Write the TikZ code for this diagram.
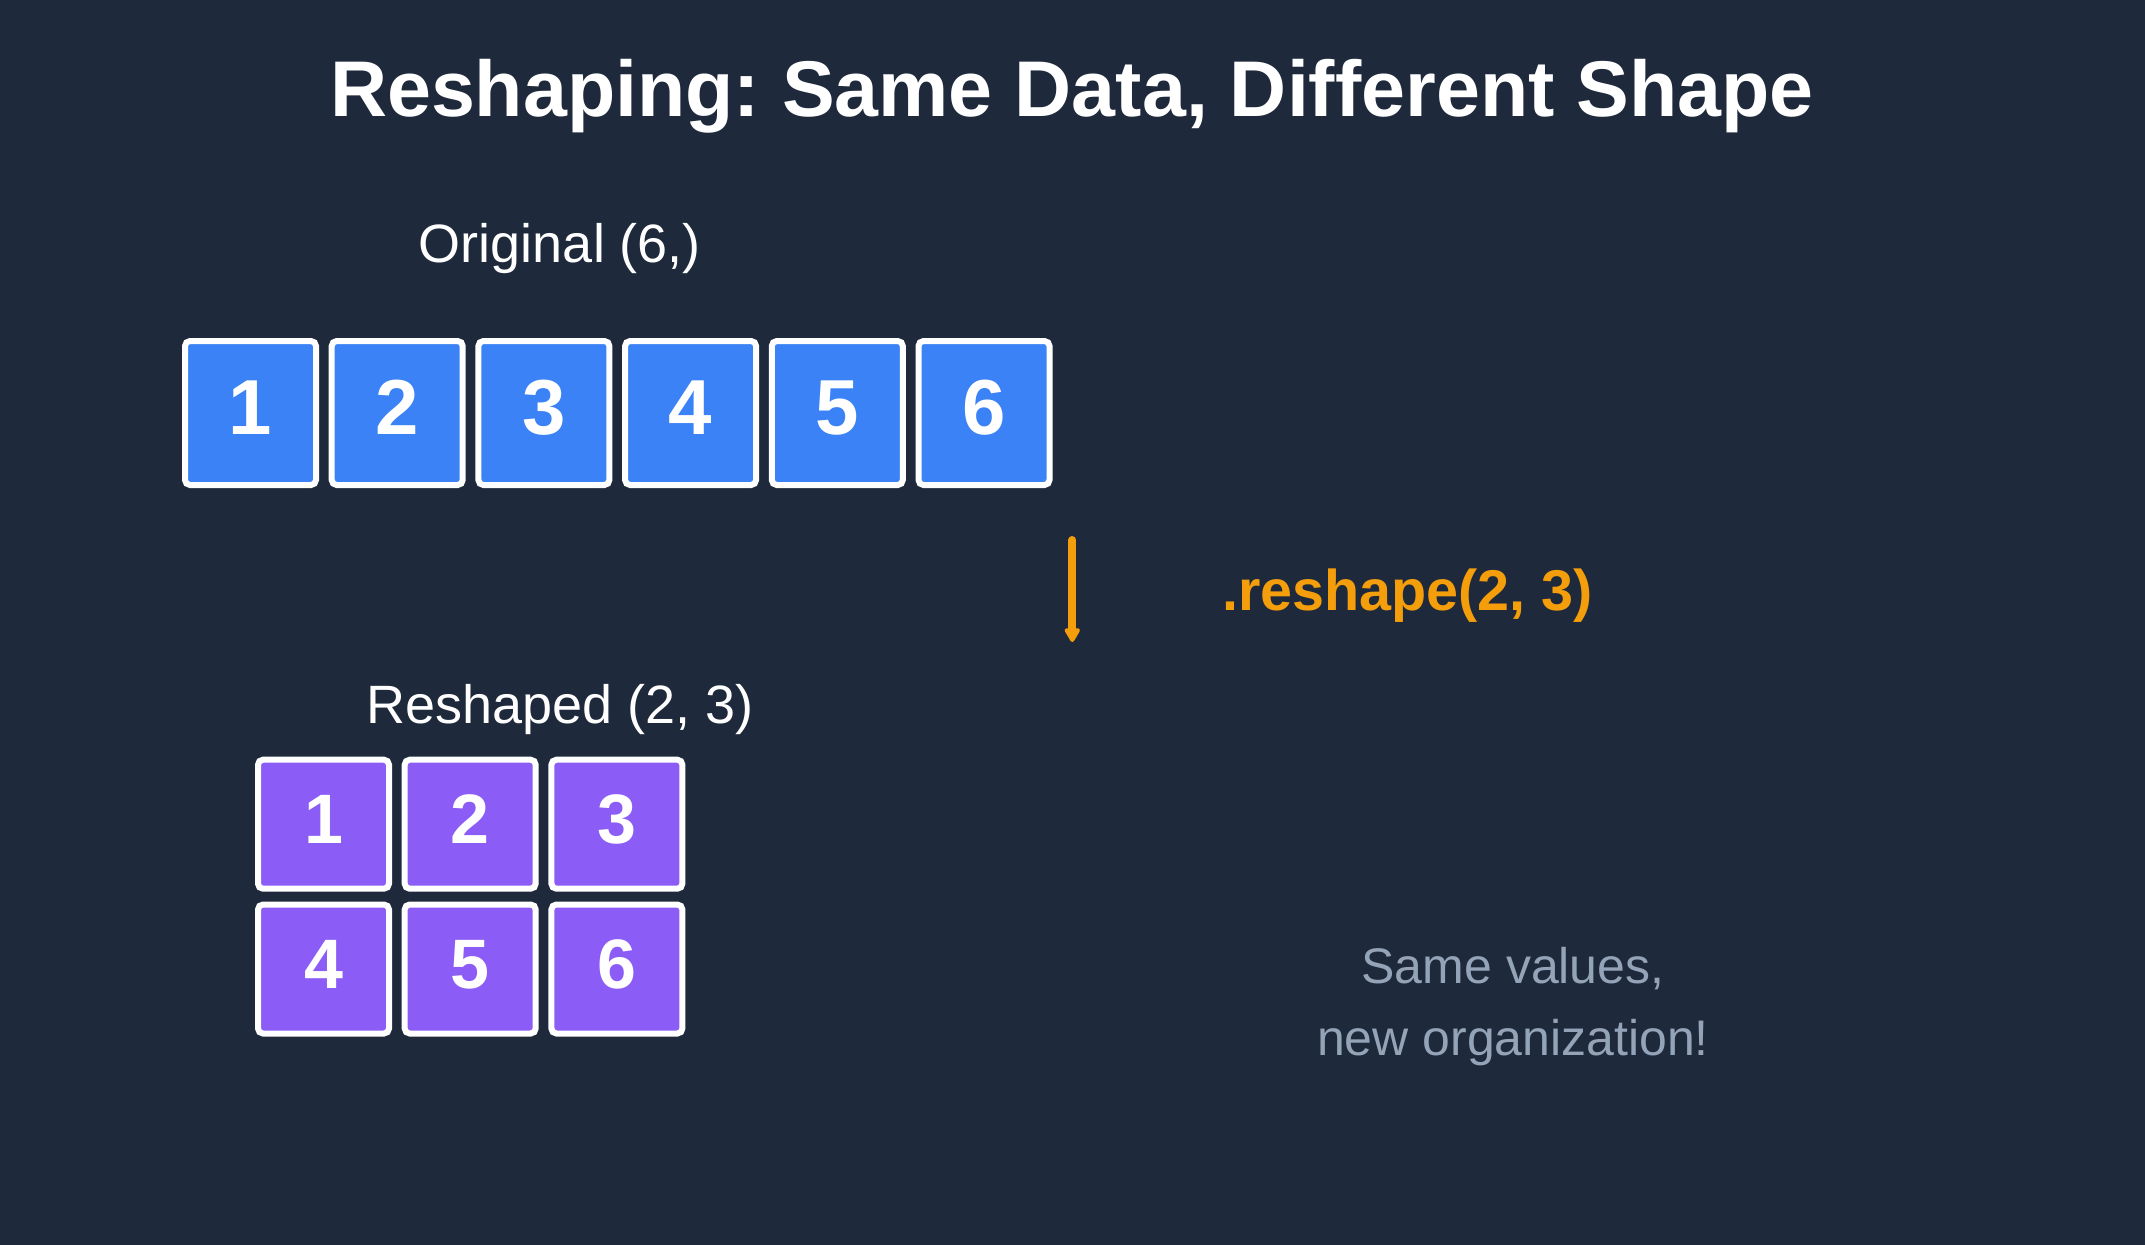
\documentclass[tikz,border=0pt]{standalone}
\usepackage{fontspec}
\setmainfont{Liberation Sans}
\usetikzlibrary{arrows.meta}
\definecolor{bg}{HTML}{1E293B}
\definecolor{cblue}{HTML}{3B82F6}
\definecolor{cpurple}{HTML}{8B5CF6}
\definecolor{corange}{HTML}{F59E0B}
\definecolor{cgray}{HTML}{94A3B8}
\frenchspacing
\tikzset{
  cellA/.style={draw=white, line width=6pt, fill=cblue, rounded corners=5pt,
    minimum width=131pt, minimum height=144pt, inner sep=0pt, text=white,
    font=\fontsize{78}{90}\selectfont\bfseries, text height=56pt, text depth=13pt},
  cellB/.style={draw=white, line width=6pt, fill=cpurple, rounded corners=5pt,
    minimum width=131pt, minimum height=129pt, inner sep=0pt, text=white,
    font=\fontsize{70}{80}\selectfont\bfseries, text height=50pt, text depth=11pt},
  lbl/.style={text=white, inner sep=0pt, anchor=base, font=\fontsize{54}{60}\selectfont},
}
\begin{document}
\begin{tikzpicture}[x=1pt,y=-1pt]
\fill[bg] (0,0) rectangle (2145,1245);
\useasboundingbox (0,0) rectangle (2145,1245);
\node[anchor=base, inner sep=0pt, text=white, font=\fontsize{79}{90}\selectfont\bfseries] (title) at (1072,116) {Reshaping: Same Data, Different Shape};
\node[lbl] (orig) at (560,262) {Original (6,)};
\foreach \i in {1,...,6} {
  \node[cellA] (a\i) at ({250.5+146.7*(\i-1)},413) {\i};
}
\node[lbl] (resh) at (560,723) {Reshaped (2, 3)};
\foreach \j in {1,2,3} {
  \pgfmathtruncatemacro{\k}{\j+3}
  \node[cellB] (b\j) at ({323.5+146.7*(\j-1)},824.2) {\j};
  \node[cellB] (b\k) at ({323.5+146.7*(\j-1)},969) {\k};
}
\coordinate (arrS) at (1072.3,540);
\coordinate (arrE) at (1072.3,642);
\draw[corange, line width=8pt, line cap=round, -{Triangle[width=17pt,length=16pt,round]}] (arrS) -- (arrE);
\node[anchor=base, inner sep=0pt, text=corange, font=\fontsize{57.5}{66}\selectfont\bfseries] (op) at (1407.5,610) {.reshape(2, 3)};
\node[anchor=base, inner sep=0pt, text=cgray, font=\fontsize{50}{60}\selectfont] (n1) at (1513,983) {Same values,};
\node[anchor=base, inner sep=0pt, text=cgray, font=\fontsize{50}{60}\selectfont] (n2) at (1513,1055) {new organization!};
\end{tikzpicture}
\end{document}
